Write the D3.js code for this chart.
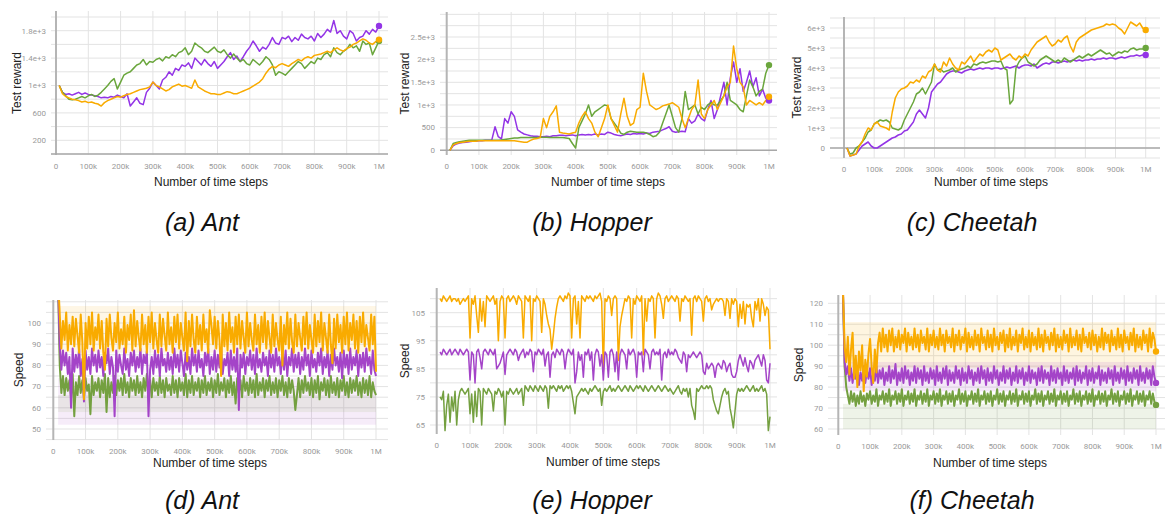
<!DOCTYPE html>
<html>
<head>
<meta charset="utf-8">
<script src="https://cdn.jsdelivr.net/npm/d3@7"></script>
<style>
  body { margin: 0; background: #fff; }
  svg { display: block; }
  text { font-family: Roboto, "Liberation Sans", Arial, sans-serif; }
  text.title { font-family: "Liberation Sans", Arial, sans-serif; }
  text.caption { font-family: "Liberation Sans", Arial, sans-serif; font-style: italic; }
</style>
</head>
<body>
<div id="chart"></div>
<script>
// time steps (x) for the two rows
var xTicks = d3.range(0, 1000001, 100000);

// ---- test reward, Ant
var antRewardPurple = [1000,900,870,880,860,880,900,870,890,870, 860,850,840,820,830,820,840,830,860,840,
  820,880,700,760,820,740,720,900,960,1050, 1000,950,1080,1120,1200,1150,1250,1220,1300,1280,
  1330,1250,1400,1350,1300,1380,1320,1280,1350,1250, 1300,1350,1420,1480,1380,1430,1350,1420,1500,1560,
  1650,1580,1500,1560,1530,1600,1700,1620,1600,1700, 1680,1720,1640,1700,1660,1750,1700,1680,1720,1650,
  1760,1700,1750,1820,1780,1950,1760,1800,1720,1680, 1800,1760,1650,1700,1720,1800,1750,1820,1780,1870];
var antRewardGreen = [1000,900,850,800,790,800,820,840,820,850, 870,840,860,900,950,1000,1060,1100,950,1050,
  1150,1180,1200,1250,1300,1320,1380,1300,1350,1340, 1380,1400,1360,1420,1400,1450,1420,1480,1500,1550,
  1450,1500,1620,1580,1550,1500,1480,1520,1560,1500, 1480,1520,1450,1400,1460,1400,1350,1380,1320,1300,
  1380,1340,1300,1350,1420,1380,1300,1150,1200,1180, 1150,1200,1250,1300,1350,1320,1250,1300,1350,1320,
  1400,1380,1450,1480,1420,1550,1480,1450,1500,1530, 1600,1550,1580,1500,1650,1600,1620,1450,1550,1650];
var antRewardOrange = [1000,880,840,820,800,790,780,760,770,750, 760,740,730,700,750,780,800,820,840,830,
  850,870,880,900,920,940,950,960,980,1050, 1000,980,950,920,940,980,1000,1020,990,1000,
  980,960,1080,980,950,920,900,880,880,870, 870,890,910,900,880,880,900,920,940,960,
  990,1020,1050,1100,1180,1240,1280,1260,1300,1320, 1300,1280,1320,1350,1380,1360,1400,1420,1400,1440,
  1450,1460,1480,1500,1480,1520,1550,1520,1500,1540, 1560,1600,1620,1650,1680,1660,1620,1600,1640,1670];
var antRewardTicks = [200, 600, 1000, 1400, 1800];

// ---- test reward, Hopper
var hopperRewardPurple = [0,100,140,160,170,180,190,200,200,210, 210,220,220,230,520,300,250,700,600,850,
  750,450,400,360,340,320,310,310,300,300, 310,300,320,320,330,330,320,330,340,320,
  340,350,340,350,340,360,340,360,350,400, 380,350,330,320,340,360,350,370,360,370,
  360,380,370,400,410,420,450,480,520,420, 400,410,420,410,700,600,650,800,700,650,
  900,1100,700,900,1200,1500,1000,1600,1950,1500, 1800,1300,1500,1750,1400,1600,1200,1350,1150,1100];
var hopperRewardGreen = [0,150,170,190,200,210,220,220,220,220, 220,220,220,220,220,220,230,240,250,260,
  270,270,280,280,280,280,280,280,290,290, 290,280,280,280,280,280,270,260,150,50,
  500,650,800,1000,750,850,900,950,1000,980, 700,600,500,380,350,400,420,410,400,400,
  400,380,350,300,320,400,600,800,1000,750, 500,400,700,1300,900,950,1000,800,950,900,
  1000,1050,1000,1000,1100,1200,1500,1100,1050,1000, 900,850,1200,1550,1400,1200,1300,1350,1700,1880];
var hopperRewardOrange = [0,120,150,170,180,190,200,200,200,210, 210,210,210,210,210,210,210,210,210,210,
  210,200,190,180,180,220,250,260,280,700, 500,750,850,980,400,380,370,360,380,400,
  600,750,850,700,600,400,300,500,700,1000, 700,550,400,800,1150,750,550,600,900,950,
  1700,1300,1000,950,900,930,980,1000,1020,1050, 1000,950,700,500,700,900,1000,1550,800,700,
  900,1000,1100,900,1050,1200,1400,1500,2300,1800, 1500,1400,1000,1100,1050,1000,1050,1000,1100,1180];
var hopperRewardTicks = [0, 500, 1000, 1500, 2000, 2500];

// ---- test reward, Cheetah
var cheetahRewardOrange = [0,-400,-350,-300,100,300,700,1000,900,1200, 1300,1100,1050,1000,900,1800,2500,2800,2950,3000,
  3100,3300,3250,3400,3300,3600,3500,3800,3900,4200, 3900,3800,4300,4100,4500,4200,4000,3900,4300,4200,
  4400,4600,4300,4500,4700,4600,4800,4900,4800,5000, 4900,4400,4500,4600,4700,4500,4400,4600,4500,4700,
  4600,4900,5100,5300,5400,5500,5600,5300,5100,5200, 5400,5300,5500,5600,5100,4800,5300,5500,5600,5700,
  5800,5900,5950,6000,6050,6100,6200,6150,6200,6150, 6000,5900,5700,6000,6300,6200,6100,6250,6000,5900];
var cheetahRewardGreen = [0,-300,-250,0,100,300,500,800,900,1200, 1300,1400,1350,1400,1300,1000,950,900,1000,1400,
  1700,2000,2300,2700,2800,3000,2700,3000,3300,4200, 3900,3950,3800,3850,3900,4000,3800,3900,3950,4000,
  4100,4000,4200,4150,4250,4300,4250,4300,4350,4350, 4300,4350,4000,3900,2200,2400,4000,4300,4500,4600,
  4300,4200,4100,4200,4400,4500,4600,4500,4400,4300, 4400,4300,4500,4400,4300,4400,4500,4600,4500,4600,
  4700,4600,4700,4800,4900,4800,4700,4750,4600,4700, 4800,4750,4850,4800,4950,5000,4900,4950,4950,5000];
var cheetahRewardPurple = [0,-400,-350,-300,-100,100,200,300,100,0, 0,100,200,300,400,500,550,650,700,850,
  900,1100,1300,1700,1900,1700,1500,2000,2800,3000, 3200,3300,3500,3700,3800,3850,3850,3800,3750,3850,
  3900,3950,3900,3950,4000,3950,4000,4000,3950,4000, 4000,3950,4000,4050,4000,4050,4100,4000,4100,4150,
  4150,4100,4200,4000,4100,4200,4250,4200,4300,4300, 4250,4300,4350,4300,4350,4400,4350,4400,4350,4400,
  4400,4450,4400,4450,4450,4500,4450,4500,4500,4450, 4500,4550,4500,4550,4600,4600,4650,4600,4650,4650];
var cheetahRewardTicks = [0, 1000, 2000, 3000, 4000, 5000, 6000];

// ---- speed, Ant (from 15k, every 5k)
var antSpeedOrange = [120,104,88,101,92,105,87,99,90,103, 89,102,94,86,104,91,64,100,88,103,
  90,105,87,98,92,104,88,101,86,78, 102,89,104,93,87,100,91,105,88,97,
  90,103,86,99,92,104,87,106,89,101, 93,87,104,90,99,86,103,91,105,88,
  100,92,86,104,89,102,94,87,105,90, 98,86,103,91,104,88,100,93,87,105,
  82,101,89,104,92,86,103,90,99,87, 104,91,97,86,106,99,90,103,88,101,
  92,75,104,89,100,87,105,91,98,86, 103,90,104,88,101,93,86,105,89,100,
  92,87,104,90,99,86,103,91,105,88, 101,93,86,104,89,100,92,87,103,80,
  99,90,105,88,102,91,86,104,89,100, 93,87,103,90,105,88,99,92,86,104,
  89,101,91,105,87,100,93,86,104,90, 81,102,88,104,91,99,86,103,90,105,
  87,100,92,104,88,101,86,103,91,105, 89,99,93,87,104,90,103,77];
var antSpeedPurple = [118,90,78,87,80,86,76,84,60,88, 77,85,79,88,75,83,63,87,78,84,
  76,88,80,85,77,87,79,84,75,86, 81,88,76,84,79,56,87,77,85,80,
  76,88,78,83,75,86,80,87,77,84, 79,88,76,85,81,87,56,78,84,76,
  87,79,85,75,88,80,83,77,86,78, 84,76,88,79,85,77,87,81,75,86,
  78,84,76,88,80,85,77,87,79,83, 75,86,80,88,76,84,78,87,77,85,
  79,88,76,83,80,86,75,87,78,84, 77,88,59,85,79,86,76,84,80,87,
  78,85,76,88,79,83,77,86,80,84, 75,87,79,85,77,88,80,84,76,86,
  78,87,75,84,80,88,77,85,79,86, 76,84,78,88,80,85,75,87,79,83,
  77,86,80,88,76,84,79,87,75,85, 78,88,80,84,77,86,74,87,79,85,
  76,88,78,84,80,87,75,85,79,86, 77,88,80,84,76,87,78,75];
var antSpeedGreen = [116,80,67,75,66,74,68,73,65,76, 56,72,66,75,67,73,65,74,68,71,
  57,75,66,72,68,74,65,73,67,76, 58,74,65,72,67,75,66,73,68,74,
  66,76,67,72,65,74,68,73,66,75, 67,72,65,74,68,76,66,73,65,74,
  68,72,66,75,67,73,65,74,68,71, 66,75,67,73,65,74,68,72,66,76,
  65,73,67,75,66,72,68,74,65,73, 67,75,66,72,68,74,65,73,67,76,
  66,72,68,74,65,73,67,75,66,72, 62,74,67,73,65,75,68,72,66,74,
  67,73,65,76,66,72,68,74,65,73, 68,75,66,72,67,74,65,73,68,75,
  66,72,65,74,67,73,68,59,66,74, 65,73,67,75,68,72,66,74,65,73,
  67,75,64,72,68,74,66,73,65,75, 67,72,66,74,65,73,68,75,66,72,
  65,74,67,73,68,75,66,72,65,74, 67,73,66,75,65,72,68,66];
var antSpeedBands = [[86, 108], [52, 74], [58, 66]]; // faint raw range: orange, purple, green
var antSpeedTicks = [50, 60, 70, 80, 90, 100];

// ---- speed, Hopper (from 10k, every 5k)
var hopperSpeedOrange = [110,109,111,110,109,110,111,109,110,110, 109,110,108,109,110,109,110,111,96,110,
  108,111,104,98,110,102,109,100,111,110, 109,110,111,108,110,95,109,111,110,96,
  110,111,109,110,111,110,108,111,110,109, 96,111,110,109,111,95,110,109,111,110,
  109,98,110,108,104,101,99,92,97,103, 107,110,111,110,109,111,110,112,111,96,
  110,111,101,109,96,111,110,109,111,110, 111,110,109,111,110,111,112,109,84,110,
  109,111,110,104,110,111,110,88,100,104, 107,110,109,111,110,96,110,108,111,110,
  109,111,90,110,102,110,109,111,110,96, 110,112,111,108,103,110,111,109,110,111,
  110,109,111,110,102,110,109,111,110,109, 110,97,110,111,109,111,110,109,102,110,
  111,109,110,106,108,109,110,109,110,110, 109,104,110,109,103,110,108,110,109,100,
  108,103,109,101,108,107,108,103,100,109, 106,110,102,110,108,104,107,106,92];
var hopperSpeedPurple = [91,90,92,91,90,91,92,90,91,92, 91,90,92,91,90,91,92,91,81,91,
  90,80,91,92,89,85,91,92,91,90, 92,91,90,92,85,86,87,89,91,83,
  90,91,92,91,90,92,91,88,90,91, 92,89,91,90,92,91,84,91,90,92,
  91,90,92,86,90,91,82,90,91,89, 92,91,90,92,91,85,90,92,91,90,
  92,80,84,91,88,90,82,91,90,92, 88,91,81,90,92,91,86,90,81,91,
  90,82,91,92,90,84,91,81,90,92, 91,90,85,92,90,91,92,90,82,91,
  90,91,84,92,91,90,85,91,92,90, 91,90,92,81,90,91,89,92,90,91,
  90,92,91,89,88,87,91,90,84,90, 89,90,91,90,89,90,91,90,84,83,
  87,85,86,87,86,82,86,87,86,85, 88,87,84,86,87,83,82,82,84,88,
  90,88,86,89,86,84,88,87,85,88, 89,90,88,86,90,88,81,80,87];
var hopperSpeedGreen = [75,74,77,63,72,76,66,75,70,77, 65,74,77,78,77,76,77,78,69,76,
  66,77,68,78,77,65,78,77,76,78, 77,76,70,77,76,78,77,75,77,65,
  77,76,78,77,76,77,78,76,77,78, 72,79,78,77,79,78,77,79,78,77,
  79,78,77,79,78,71,79,78,79,78, 77,79,78,79,77,78,79,78,79,77,
  73,69,75,76,77,78,77,78,77,76, 78,77,78,79,78,77,78,72,77,78,
  77,78,79,77,78,77,78,79,78,77, 78,79,78,77,79,78,77,78,79,78,
  79,78,77,79,78,77,78,79,78,77, 78,79,78,77,78,79,78,77,78,77,
  76,77,78,79,77,76,78,77,78,75, 78,72,70,67,78,77,78,79,78,78,
  79,78,79,78,74,72,70,69,72,75, 77,78,76,77,71,68,64,70,76,78,
  77,78,77,78,79,78,77,78,79,77, 78,77,78,79,77,78,76,63,68];
var hopperSpeedTicks = [65, 75, 85, 95, 105];

// ---- speed, Cheetah (from 15k, every 5k)
var cheetahSpeedOrange = [125,99,92,104,86,98,106,84,95,80, 97,88,100,78,93,85,96,103,90,82,
  98,87,101,106,97,108,99,105,97,107, 100,108,97,104,99,107,98,105,101,108,
  97,106,100,104,98,108,99,105,97,107, 101,104,98,108,97,105,100,107,99,104,
  98,108,100,105,97,107,101,104,99,108, 97,105,100,107,98,104,101,108,97,106,
  99,104,98,107,100,105,97,108,101,104, 98,107,99,105,97,108,100,104,98,106,
  101,107,97,105,99,108,98,104,100,107, 97,105,101,108,98,104,99,107,97,106,
  100,104,98,108,99,105,97,107,101,104, 98,106,100,108,97,105,99,104,98,107,
  101,105,97,108,99,104,100,107,98,105, 97,108,101,104,99,106,98,107,100,105,
  97,104,99,108,98,106,101,105,97,107, 100,104,98,108,99,105,97,107,101,104,
  98,106,100,108,97,105,99,104,98,107, 101,105,97,108,99,106,103,97];
var cheetahSpeedPurple = [124,92,86,90,83,89,82,88,84,90, 81,87,83,90,82,88,84,89,81,87,
  83,90,82,88,84,89,81,87,83,90, 82,88,84,91,81,87,83,89,82,90,
  84,88,81,87,83,90,82,89,84,88, 81,90,83,87,82,89,84,88,81,90,
  83,87,82,89,84,90,81,88,83,87, 82,90,84,88,81,89,83,87,82,90,
  84,88,81,87,83,89,82,90,84,88, 81,89,83,87,82,90,84,88,81,87,
  83,90,82,88,84,89,81,87,83,90, 82,88,84,89,81,87,83,90,82,88,
  84,87,81,89,83,90,82,88,84,87, 81,90,83,88,82,89,84,87,81,90,
  83,88,82,87,84,89,81,90,83,88, 82,87,84,90,81,88,83,89,82,87,
  84,90,81,88,83,87,82,89,84,88, 81,90,83,87,82,89,84,88,81,90,
  83,87,82,89,84,88,81,90,83,87, 82,89,84,88,81,90,85,82];
var cheetahSpeedGreen = [123,90,80,76,72,78,73,77,71,76, 72,78,73,76,71,77,74,78,72,76,
  73,79,71,76,74,78,72,77,73,79, 71,76,74,78,72,77,73,79,71,76,
  74,78,72,77,73,79,71,76,74,78, 72,77,73,79,71,76,74,78,72,77,
  73,79,71,76,74,78,72,77,73,78, 71,76,74,79,72,77,73,78,71,76,
  74,78,72,77,73,79,71,76,74,78, 72,77,73,78,71,76,74,79,72,77,
  73,78,71,76,74,78,72,77,73,79, 71,76,74,78,72,77,73,78,71,76,
  74,79,72,77,73,78,71,76,74,78, 72,77,73,79,71,76,74,78,72,77,
  73,78,71,76,74,79,72,77,73,78, 71,76,74,78,72,77,73,79,71,76,
  74,78,72,77,73,78,71,76,74,79, 72,77,73,78,71,76,74,78,72,77,
  73,79,71,76,74,78,72,77,73,78, 71,76,74,78,72,77,73,71.5];
var cheetahSpeedBands = [[89, 111], [78, 92], [60, 72]];
var cheetahSpeedTicks = [60, 70, 80, 90, 100, 110, 120];

var topColors = { orange: "#f9ab00", purple: "#9334e6", green: "#6aa63c" };
var botColors = { orange: "#f9ab00", purple: "#a444c8", green: "#74a040" };

function fmtReward(v) { return v >= 1000 ? (v / 1000) + "e+3" : String(v); }
function fmtStep(v) { return v === 0 ? "0" : v === 1000000 ? "1M" : (v / 1000) + "k"; }

var panels = [
  { caption: "(a) Ant", capX: 202, capY: 231, box: [51, 11, 388, 155], xPx: [56, 379],
    yRef: [[200, 140.3], [1800, 30.7]], grid: [0, 2000, 200], ticks: antRewardTicks, fmt: fmtReward,
    yTitle: "Test reward", yTitleX: 17, xTitleX: 211, xTitleY: 186, start: 10000, step: 10000, dots: true, cols: topColors,
    series: [["purple", antRewardPurple], ["green", antRewardGreen], ["orange", antRewardOrange]] },
  { caption: "(b) Hopper", capX: 592, capY: 231, box: [440, 12, 777, 155], xPx: [446.7, 769],
    yRef: [[0, 150.3], [2500, 37]], grid: [0, 3000, 250], ticks: hopperRewardTicks, fmt: fmtReward,
    yTitle: "Test reward", yTitleX: 405, xTitleX: 608, xTitleY: 186, start: 10000, step: 10000, dots: true, cols: topColors,
    series: [["purple", hopperRewardPurple], ["green", hopperRewardGreen], ["orange", hopperRewardOrange]] },
  { caption: "(c) Cheetah", capX: 972, capY: 231, box: [830, 17, 1160, 158], xPx: [844, 1145.7],
    yRef: [[0, 148], [6000, 28]], grid: [-500, 6500, 500], ticks: cheetahRewardTicks, fmt: fmtReward,
    yTitle: "Test reward", yTitleX: 797, xTitleX: 991, xTitleY: 186, start: 10000, step: 10000, dots: true, cols: topColors,
    series: [["purple", cheetahRewardPurple], ["green", cheetahRewardGreen], ["orange", cheetahRewardOrange]] },
  { caption: "(d) Ant", capX: 202, capY: 509, box: [46, 300, 388, 440], xPx: [53.3, 376],
    yRef: [[50, 429], [100, 323]], grid: [45, 110, 5], ticks: antSpeedTicks, fmt: String,
    yTitle: "Speed", yTitleX: 19, xTitleX: 210, xTitleY: 467, start: 15000, step: 5000, dots: false, cols: botColors,
    bands: antSpeedBands, bandOpacity: 0.1,
    series: [["orange", antSpeedOrange], ["purple", antSpeedPurple], ["green", antSpeedGreen]] },
  { caption: "(e) Hopper", capX: 592, capY: 509, box: [430, 288, 777, 434], xPx: [436.7, 770],
    yRef: [[65, 425], [105, 312.7]], grid: [60, 115, 5], ticks: hopperSpeedTicks, fmt: String,
    yTitle: "Speed", yTitleX: 405, xTitleX: 603, xTitleY: 466, start: 10000, step: 5000, dots: false, cols: botColors,
    series: [["orange", hopperSpeedOrange], ["purple", hopperSpeedPurple], ["green", hopperSpeedGreen]] },
  { caption: "(f) Cheetah", capX: 972, capY: 509, box: [828, 295, 1165, 435], xPx: [838.3, 1156],
    yRef: [[60, 429], [120, 303.3]], grid: [55, 125, 5], ticks: cheetahSpeedTicks, fmt: String,
    yTitle: "Speed", yTitleX: 799, xTitleX: 990, xTitleY: 467, start: 15000, step: 5000, dots: true, cols: botColors,
    bands: cheetahSpeedBands, bandOpacity: 0.12,
    series: [["orange", cheetahSpeedOrange], ["purple", cheetahSpeedPurple], ["green", cheetahSpeedGreen]] }
];

var svg = d3.select("#chart").append("svg")
  .attr("width", 1165)
  .attr("height", 520);

panels.forEach(function(p, pi) {
  var left = p.box[0], top = p.box[1], right = p.box[2], bottom = p.box[3];
  var x = d3.scaleLinear().domain([0, 1000000]).range(p.xPx);
  var y = d3.scaleLinear().domain([p.yRef[0][0], p.yRef[1][0]]).range([p.yRef[0][1], p.yRef[1][1]]);
  var g = svg.append("g");

  g.append("clipPath").attr("id", "clip" + pi)
    .append("rect").attr("x", left).attr("y", top).attr("width", right - left).attr("height", bottom - top);

  // grid
  var hv = d3.range(p.grid[0], p.grid[1] + 1, p.grid[2]).filter(function(v) {
    return y(v) >= top - 0.5 && y(v) <= bottom + 0.5;
  });
  g.selectAll(".hg").data(hv).enter().append("line")
    .attr("x1", left).attr("x2", right)
    .attr("y1", function(d) { return y(d); }).attr("y2", function(d) { return y(d); })
    .attr("stroke", "#e3e3e3").attr("stroke-width", 1);
  g.selectAll(".vg").data(xTicks).enter().append("line")
    .attr("x1", function(d) { return x(d); }).attr("x2", function(d) { return x(d); })
    .attr("y1", top).attr("y2", bottom)
    .attr("stroke", "#e3e3e3").attr("stroke-width", 1);

  // zero lines
  g.append("line").attr("x1", x(0)).attr("x2", x(0)).attr("y1", top).attr("y2", bottom)
    .attr("stroke", "#b5b5b5").attr("stroke-width", 2);
  if (y(0) <= bottom + 1 && y(0) >= top) {
    g.append("line").attr("x1", left).attr("x2", right).attr("y1", y(0)).attr("y2", y(0))
      .attr("stroke", "#a8a8a8").attr("stroke-width", 1.5);
  }

  var plot = g.append("g").attr("clip-path", "url(#clip" + pi + ")");

  // faint raw ranges
  if (p.bands) {
    p.series.forEach(function(s, si) {
      var b = p.bands[si];
      plot.append("rect")
        .attr("x", x(p.start)).attr("width", x(1000000) - x(p.start))
        .attr("y", y(b[1])).attr("height", y(b[0]) - y(b[1]))
        .attr("fill", p.cols[s[0]]).attr("opacity", p.bandOpacity);
    });
  }

  var line = d3.line()
    .x(function(d, i) { return x(p.start + i * p.step); })
    .y(function(d) { return y(d); });

  var dense = p.bands ? 2 : 1.5;
  var order = p.bands ? p.series.slice().reverse() : p.series;
  order.forEach(function(s) {
    plot.append("path").datum(s[1])
      .attr("fill", "none")
      .attr("stroke", p.cols[s[0]])
      .attr("stroke-width", dense)
      .attr("stroke-linejoin", "round")
      .attr("d", line);
  });

  if (p.dots) {
    p.series.forEach(function(s) {
      var n = s[1].length - 1;
      g.append("circle")
        .attr("cx", x(p.start + n * p.step)).attr("cy", y(s[1][n]))
        .attr("r", 3.2).attr("fill", p.cols[s[0]]);
    });
  }

  // tick labels
  g.selectAll(".yl").data(p.ticks).enter().append("text")
    .attr("x", left - 5).attr("y", function(d) { return y(d); })
    .attr("dy", "0.35em").attr("text-anchor", "end")
    .attr("font-size", 8).attr("fill", "#9a9a9a")
    .text(p.fmt);
  g.selectAll(".xl").data(xTicks).enter().append("text")
    .attr("x", function(d) { return x(d); }).attr("y", bottom + 14)
    .attr("text-anchor", "middle")
    .attr("font-size", 8).attr("fill", "#9a9a9a")
    .text(fmtStep);

  // axis titles
  g.append("text").attr("class", "title")
    .attr("x", p.xTitleX).attr("y", p.xTitleY)
    .attr("text-anchor", "middle").attr("font-size", 12).attr("fill", "#222")
    .text("Number of time steps");
  g.append("text").attr("class", "title")
    .attr("transform", "translate(" + p.yTitleX + "," + ((top + bottom) / 2) + ") rotate(-90)")
    .attr("text-anchor", "middle").attr("dy", "0.35em")
    .attr("font-size", 12).attr("fill", "#222")
    .text(p.yTitle);

  // caption
  svg.append("text").attr("class", "caption")
    .attr("x", p.capX).attr("y", p.capY)
    .attr("text-anchor", "middle")
    .attr("font-size", 25).attr("fill", "#111")
    .text(p.caption);
});
</script>
</body>
</html>
